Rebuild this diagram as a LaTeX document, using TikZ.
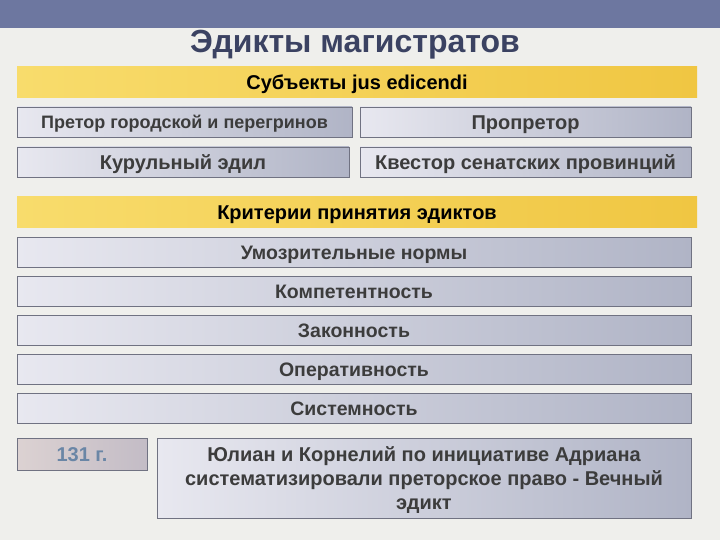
\documentclass[tikz,border=0pt]{standalone}
\usepackage{fontspec}
\setmainfont{Liberation Sans}
\definecolor{pagebg}{HTML}{EFEFEC}
\definecolor{topbar}{HTML}{6D77A0}
\definecolor{titletext}{HTML}{3B4262}
\definecolor{boxline}{HTML}{707282}
\definecolor{boxleft}{HTML}{E8E8F0}
\definecolor{boxright}{HTML}{B0B4C6}
\definecolor{boxtext}{HTML}{3C3C3C}
\definecolor{barleft}{HTML}{F8DC6C}
\definecolor{barright}{HTML}{F0C642}
\definecolor{yearleft}{HTML}{DCD2D2}
\definecolor{yearright}{HTML}{C3BCC6}
\definecolor{yeartext}{HTML}{6A86A6}

\begin{document}
\begin{tikzpicture}[x=1pt,y=-1pt,
	greybox/.style={draw=boxline,line width=0.9pt,left color=boxleft,right color=boxright,
		text=boxtext,inner sep=0pt,outer sep=0pt,anchor=north west,
		text height=14.4pt,text depth=0pt,
		font=\bfseries\fontsize{20}{24}\selectfont},
	yellowbar/.style={left color=barleft,right color=barright,text=black,inner sep=0pt,
		outer sep=0pt,anchor=north west,minimum width=680pt,minimum height=31pt,
		text height=14.4pt,text depth=0pt,
		font=\bfseries\fontsize{20}{24}\selectfont}]
	% page
	\fill[pagebg] (0,0) rectangle (720,540);
	\fill[topbar] (0,0) rectangle (720,28);
	\useasboundingbox (0,0) rectangle (720,540);
	\node[text=titletext,inner sep=0pt,text height=23pt,text depth=0pt,
		font=\bfseries\fontsize{32}{36}\selectfont] (title) at (355,41) {Эдикты магистратов};

	% subjects
	\node[yellowbar] (subj) at (17,67) {Субъекты jus edicendi};
	\node[greybox,minimum width=335pt,minimum height=30pt,text height=13pt,font=\bfseries\fontsize{18}{22}\selectfont] (praetor) at (17,107) {Претор городской и перегринов};
	\node[greybox,minimum width=331pt,minimum height=30pt] (propraetor) at (360,107) {Пропретор};
	\node[greybox,minimum width=332pt,minimum height=30pt] (aedile) at (17,147) {Курульный эдил};
	\node[greybox,minimum width=331pt,minimum height=30pt] (quaestor) at (360,147) {Квестор сенатских провинций};

	% criteria
	\node[yellowbar] (crit) at (17,197) {Критерии принятия эдиктов};
	\foreach \t [count=\i] in {Умозрительные нормы,Компетентность,Законность,Оперативность,Системность}
		\node[greybox,minimum width=674pt,minimum height=30pt,text height=14pt,font=\bfseries\fontsize{19.5}{23}\selectfont] (crit\i) at (17,198+39*\i) {\t};

	% edictum perpetuum
	\node[greybox,left color=yearleft,right color=yearright,text=yeartext,minimum width=130pt,minimum height=32pt] (year) at (17,438) {131 г.};
	\node[greybox,minimum width=534pt,minimum height=80pt,align=center,text height=,text depth=-4pt] (edict) at (157,438)
		{Юлиан и Корнелий по инициативе Адриана\\систематизировали преторское право - Вечный\\эдикт};
\end{tikzpicture}
\end{document}
